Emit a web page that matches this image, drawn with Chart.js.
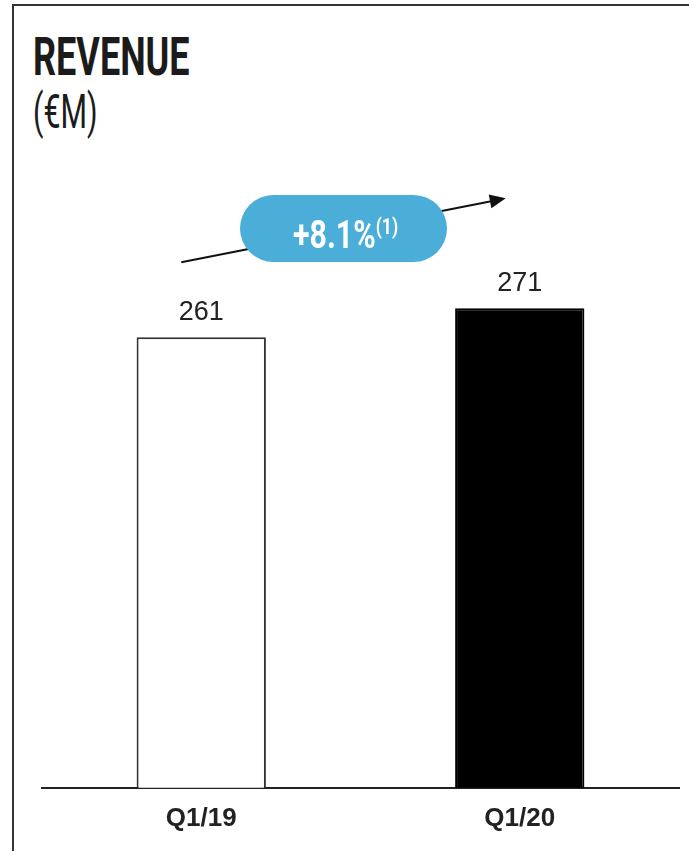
<!DOCTYPE html>
<html>
<head>
<meta charset="utf-8">
<script src="https://cdn.jsdelivr.net/npm/chart.js@4/dist/chart.umd.min.js"></script>
<style>
  html, body { margin: 0; padding: 0; background: #ffffff; }
  body { width: 689px; height: 851px; position: relative; overflow: hidden; }
  .frame {
    position: absolute; left: 12px; top: 4px; width: 700px; height: 900px;
    border-left: 2px solid #333; border-top: 2px solid #333;
  }
  #revenueChart { position: absolute; left: 0; top: 0; }
  .title, .unit {
    position: absolute; left: 33px; margin: 0; color: #1b1b1b;
    font-family: Roboto, sans-serif; transform-origin: left top; white-space: nowrap;
  }
  .title { top: 31px; font-size: 53px; font-weight: 700; line-height: 1; transform: scaleX(0.68); }
  .unit { top: 87px; font-size: 49px; font-weight: 400; line-height: 1; transform: scaleX(0.62); }
</style>
</head>
<body>
<div class="frame"></div>
<div class="title">REVENUE</div>
<div class="unit">(€M)</div>
<canvas id="revenueChart" width="689" height="851"></canvas>
<script>
const categories = ['Q1/19', 'Q1/20'];
const revenue = [261, 271];
const barFills = ['#ffffff', '#000000'];
const barBorders = ['#333333', '#000000'];
const growthText = '+8.1%';
const growthNote = '(1)';

// value scale starts above zero, as in the printed slide
const yMin = 106;
const yMax = 300;

// numbers above each bar
const valueLabels = {
  id: 'valueLabels',
  afterDatasetsDraw(chart) {
    const ctx = chart.ctx;
    const meta = chart.getDatasetMeta(0);
    ctx.save();
    ctx.fillStyle = '#222';
    ctx.font = '27px "Liberation Sans", Arial, sans-serif';
    ctx.textAlign = 'center';
    ctx.textBaseline = 'alphabetic';
    meta.data.forEach((bar, i) => {
      ctx.fillText(String(revenue[i]), bar.x, bar.y - 17);
    });
    ctx.restore();
  }
};

// growth arrow with the blue pill badge
const growthBadge = {
  id: 'growthBadge',
  afterDraw(chart) {
    const ctx = chart.ctx;
    const bars = chart.getDatasetMeta(0).data;
    const x0 = bars[0].x - 20, y0 = bars[0].y - 75;
    const x1 = bars[1].x - 14, y1 = bars[1].y - 110;

    ctx.save();
    ctx.strokeStyle = '#111';
    ctx.lineWidth = 2;
    ctx.beginPath();
    ctx.moveTo(x0, y0);
    ctx.lineTo(x1 - 12, y1 + 12 * (y0 - y1) / (x1 - x0));
    ctx.stroke();

    // arrow head
    const ang = Math.atan2(y1 - y0, x1 - x0);
    ctx.fillStyle = '#111';
    ctx.beginPath();
    ctx.moveTo(x1, y1);
    ctx.lineTo(x1 - 16 * Math.cos(ang) + 7 * Math.sin(ang), y1 - 16 * Math.sin(ang) - 7 * Math.cos(ang));
    ctx.lineTo(x1 - 16 * Math.cos(ang) - 7 * Math.sin(ang), y1 - 16 * Math.sin(ang) + 7 * Math.cos(ang));
    ctx.closePath();
    ctx.fill();

    // pill
    const cx = (bars[0].x + bars[1].x) / 2 - 17;
    const cy = 228.5;
    const w = 207, h = 67, r = h / 2;
    ctx.fillStyle = '#4aaed9';
    ctx.beginPath();
    ctx.roundRect(cx - w / 2, cy - h / 2, w, h, r);
    ctx.fill();

    ctx.fillStyle = '#ffffff';
    ctx.textBaseline = 'alphabetic';
    ctx.textAlign = 'left';
    const mainFont = '700 38px Roboto, sans-serif';
    const noteFont = '700 22px Roboto, sans-serif';
    ctx.font = mainFont;
    const mainW = ctx.measureText(growthText).width;
    ctx.font = noteFont;
    const noteW = ctx.measureText(growthNote).width;
    const sx = 0.8;
    const start = cx - (mainW + noteW) * sx / 2 + 2;
    ctx.translate(start, 0);
    ctx.scale(sx, 1);
    ctx.font = mainFont;
    ctx.fillText(growthText, 0, cy + 19);
    ctx.font = noteFont;
    ctx.fillText(growthNote, mainW, cy + 5);
    ctx.restore();
  }
};

new Chart(document.getElementById('revenueChart'), {
  type: 'bar',
  data: {
    labels: categories,
    datasets: [{
      data: revenue,
      backgroundColor: barFills,
      borderColor: barBorders,
      borderWidth: 2,
      barPercentage: 0.406,
      categoryPercentage: 1
    }]
  },
  options: {
    responsive: false,
    devicePixelRatio: 1,
    animation: false,
    layout: { padding: { left: 42, right: 10, top: 224, bottom: 10 } },
    plugins: {
      legend: { display: false },
      tooltip: { enabled: false }
    },
    scales: {
      x: {
        grid: { display: false },
        border: { display: true, color: '#222', width: 2 },
        ticks: {
          color: '#222',
          padding: 7,
          font: { family: '"Liberation Sans", Arial, sans-serif', size: 26, weight: 'bold' }
        }
      },
      y: {
        display: false,
        min: yMin,
        max: yMax
      }
    }
  },
  plugins: [valueLabels, growthBadge]
});
</script>
</body>
</html>
